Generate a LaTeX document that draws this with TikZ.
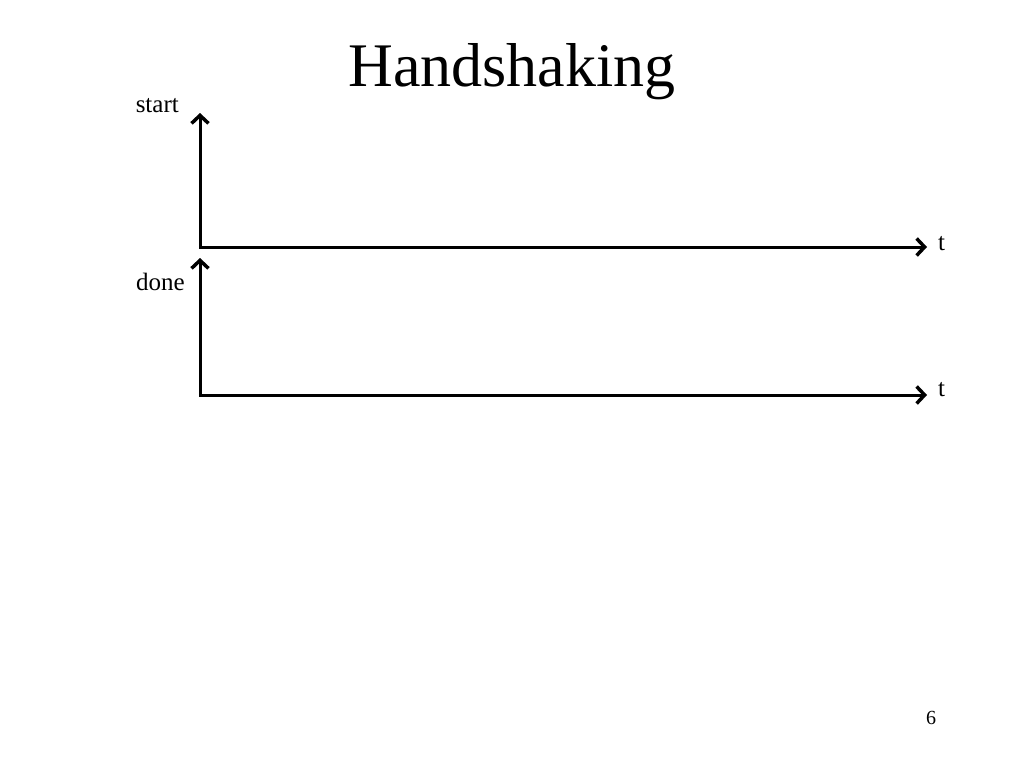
\documentclass[tikz,border=0pt]{standalone}
\usepackage{fontspec}
\setmainfont{Liberation Serif}
\usetikzlibrary{arrows.meta}
\begin{document}
\begin{tikzpicture}[x=1pt,y=-1pt,
  tip/.tip={Straight Barb[length=8pt,width=17pt,line width=3.5pt]},
  axis/.style={line width=3pt,tip-tip,line join=miter},
  lbl/.style={inner sep=0pt,font=\fontsize{25}{30}\selectfont}]
\useasboundingbox (0,0) rectangle (1024,768);
\node (title) at (512,72) {\fontsize{62}{70}\selectfont Handshaking};
\coordinate (o1) at (200,247);
\coordinate (y1) at (200,113);
\coordinate (x1) at (927,247);
\coordinate (o2) at (200,395);
\coordinate (y2) at (200,258);
\coordinate (x2) at (927,395);
\draw[axis] (y1) -- (o1) -- (x1);
\draw[axis] (y2) -- (o2) -- (x2);
\node[lbl,anchor=east] (start) at (179,106) {start};
\node[lbl,anchor=east] (done) at (185,282) {done};
\node[lbl,anchor=west] (t1) at (938,244) {t};
\node[lbl,anchor=west] (t2) at (938,390) {t};
\node[inner sep=0pt,font=\fontsize{20}{24}\selectfont] (pg) at (931,718) {6};
\end{tikzpicture}
\end{document}
